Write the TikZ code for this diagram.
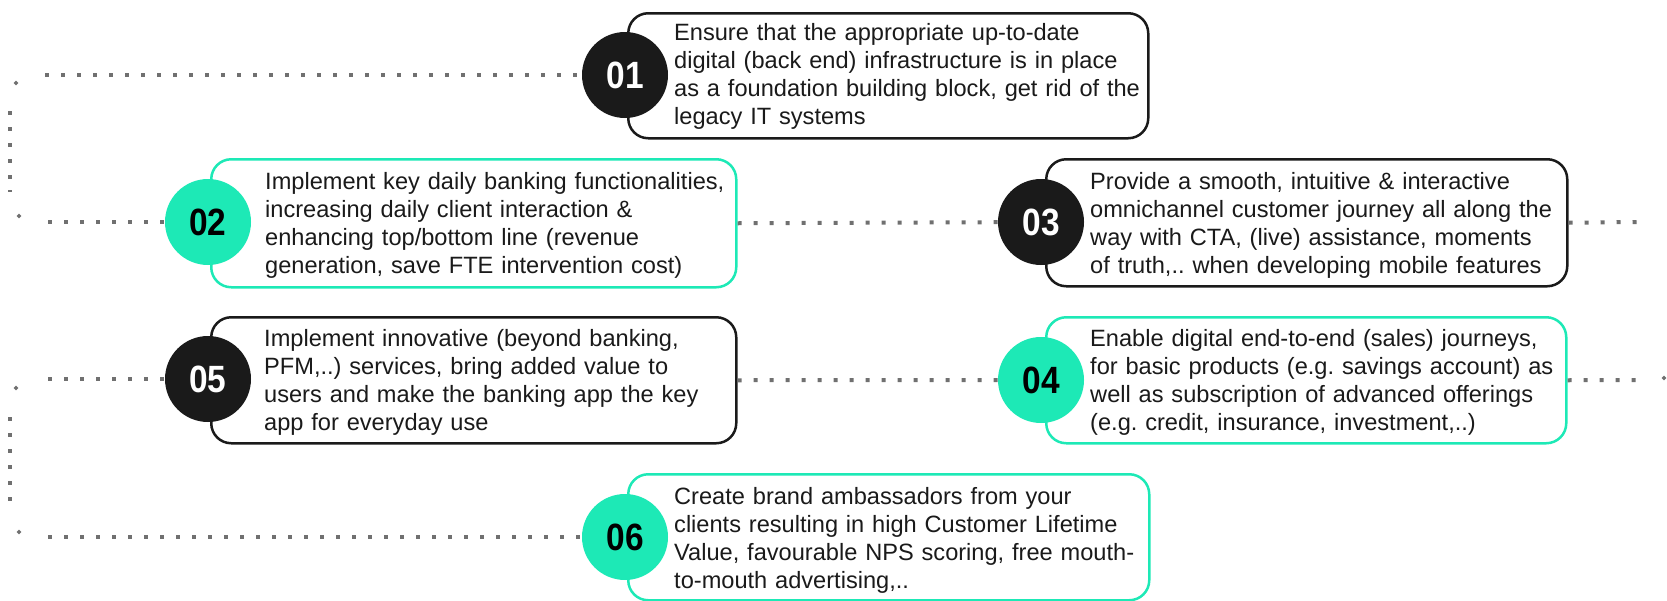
\documentclass[tikz,border=0pt]{standalone}
\usepackage{fontspec}
\setmainfont{Liberation Sans}
\newfontfamily\numfont{Liberation Sans}[FakeStretch=0.88]
\usetikzlibrary{shapes.geometric}
\definecolor{mint}{HTML}{1DE9B6}
\definecolor{ink}{HTML}{1A1A1A}
\definecolor{dotgray}{HTML}{707070}

\tikzset{
  card/.style={line width=2.5pt, rounded corners=20pt, fill=white, anchor=north west, inner sep=0pt},
  darkcard/.style={card, draw=ink},
  mintcard/.style={card, draw=mint},
  badge/.style={circle, minimum size=86pt, inner sep=0pt, font=\numfont\fontsize{38}{38}\selectfont\bfseries},
  darkbadge/.style={badge, fill=ink, text=white},
  mintbadge/.style={badge, fill=mint, text=black},
  body/.style={anchor=base west, inner sep=0pt, align=left, text width=520pt, text=ink,
               font=\fontsize{23.6}{28.3}\selectfont\frenchspacing},
  dotline/.style={draw=dotgray, line width=4pt, dash pattern=on 4pt off 12pt},
  tip/.style={diamond, fill=dotgray, inner sep=0pt, minimum size=5pt},
}

\begin{document}
\frenchspacing
\begin{tikzpicture}[x=1pt, y=-1pt]
\useasboundingbox (0,0) rectangle (1667,600);

% cards
\node[darkcard, minimum width=520pt, minimum height=125pt] (b1) at (627,12) {};
\node[mintcard, minimum width=525pt, minimum height=128pt] (b2) at (210,158) {};
\node[darkcard, minimum width=521pt, minimum height=127pt] (b3) at (1045,158) {};
\node[darkcard, minimum width=525pt, minimum height=126pt] (b5) at (210,316) {};
\node[mintcard, minimum width=520pt, minimum height=126pt] (b4) at (1045,316) {};
\node[mintcard, minimum width=521pt, minimum height=126pt] (b6) at (627,473) {};

% texts
\node[body] (t1) at (674,40) {Ensure that the appropriate up-to-date\\digital (back end) infrastructure is in place\\as a foundation building block, get rid of the\\legacy IT systems};
\node[body] (t2) at (265,189) {Implement key daily banking functionalities,\\increasing daily client interaction \&\\enhancing top/bottom line (revenue\\generation, save FTE intervention cost)};
\node[body] (t3) at (1090,189) {Provide a smooth, intuitive \& interactive\\omnichannel customer journey all along the\\way with CTA, (live) assistance, moments\\of truth,.. when developing mobile features};
\node[body] (t5) at (264,346) {Implement innovative (beyond banking,\\PFM,..) services, bring added value to\\users and make the banking app the key\\app for everyday use};
\node[body] (t4) at (1090,346) {Enable digital end-to-end (sales) journeys,\\for basic products (e.g. savings account) as\\well as subscription of advanced offerings\\(e.g. credit, insurance, investment,..)};
\node[body] (t6) at (674,504) {Create brand ambassadors from your\\clients resulting in high Customer Lifetime\\Value, favourable NPS scoring, free mouth-\\to-mouth advertising,..};

% dotted guide lines
\coordinate (r1) at (45,75);
\coordinate (r2) at (48,222);
\coordinate (r3) at (48,379);
\coordinate (r4) at (48,537);
\coordinate (e2) at (1637,222);
\coordinate (e3) at (1637,380);
\coordinate (v1a) at (10,111);
\coordinate (v1b) at (10,181);
\coordinate (v2a) at (10,417);
\coordinate (v2b) at (10,503);

\draw[dotline] (r1) -- (627,75);
\draw[dotline] (r2) -- (210,222);
\draw[dotline] (r3) -- (210,379);
\draw[dotline] (r4) -- (627,537);
\draw[dotline] (b2.east) -- (1041,222);
\draw[dotline] (b5.east) -- (1041,380);
\draw[dotline] (b3.east) -- (e2);
\draw[dotline] (b4.east) -- (e3);
\draw[dotline] (v1a) -- (v1b);
\draw[dotline] (v2a) -- (v2b);
\draw[dotgray, line width=1.5pt] (8,191) -- (12,191);

\node[tip] (p1) at (16,83) {};
\node[tip] (p2) at (19,216) {};
\node[tip] (p3) at (16,388) {};
\node[tip] (p4) at (19,532) {};
\node[tip] (p5) at (1664,378) {};

% numbered badges
\node[darkbadge] (c1) at (625,75) {01};
\node[mintbadge] (c2) at (208,222) {02};
\node[darkbadge] (c3) at (1041,222) {03};
\node[darkbadge] (c5) at (208,379) {05};
\node[mintbadge] (c4) at (1041,380) {04};
\node[mintbadge] (c6) at (625,537) {06};
\end{tikzpicture}
\end{document}
